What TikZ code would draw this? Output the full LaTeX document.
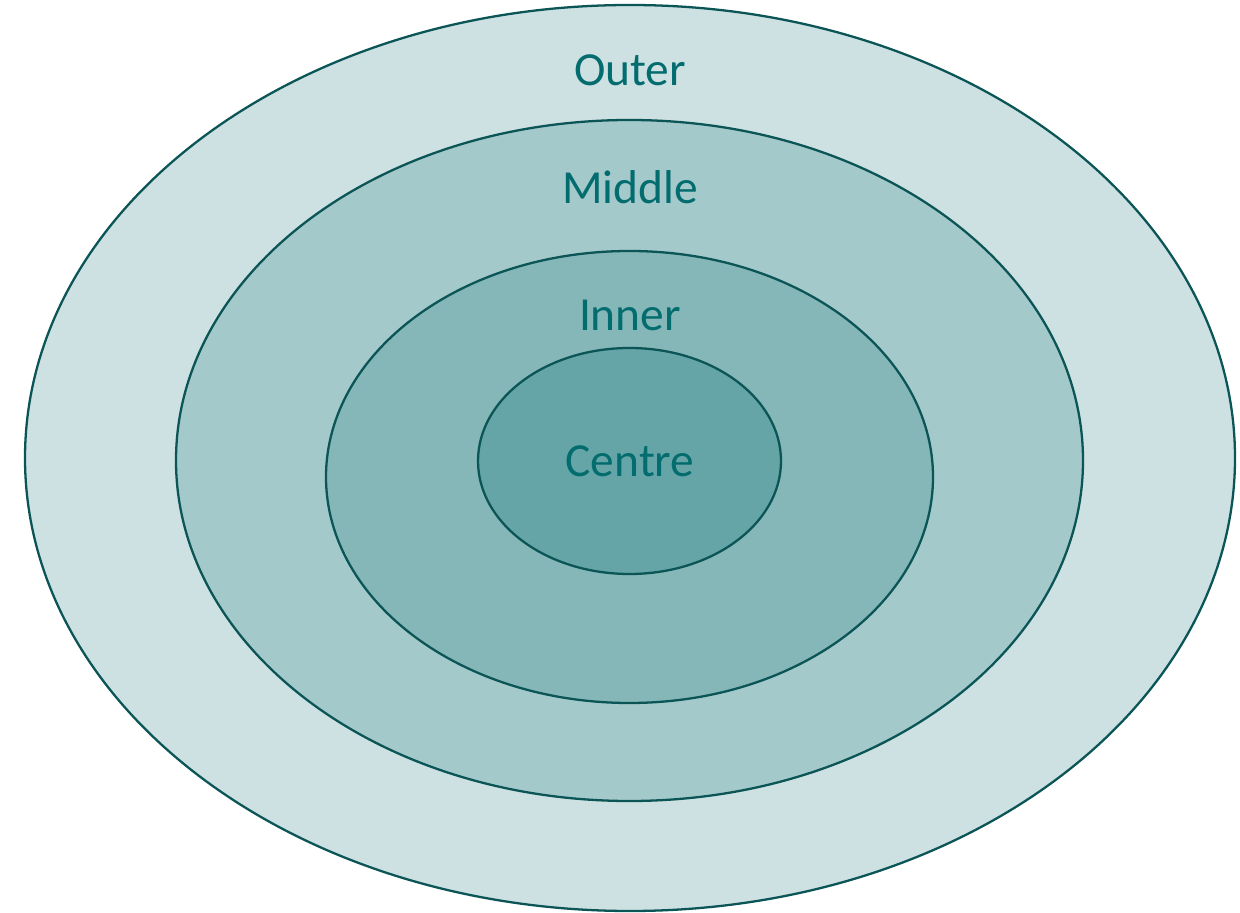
\documentclass[tikz,border=0pt]{standalone}
\usepackage{fontspec}
\setmainfont{Carlito}
\usetikzlibrary{shapes.geometric}
\definecolor{ringline}{HTML}{0B5557}
\definecolor{ringtext}{HTML}{036C6E}
\definecolor{outerfill}{HTML}{CDE1E2}
\definecolor{middlefill}{HTML}{A4C9CA}
\definecolor{innerfill}{HTML}{85B7B8}
\definecolor{centrefill}{HTML}{66A5A7}
\tikzset{
  ring/.style={ellipse,draw=ringline,line width=1.3pt,inner sep=0pt},
  ringlabel/.style={text=ringtext,font=\fontsize{27}{32}\selectfont}
}
\begin{document}
\begin{tikzpicture}
  \useasboundingbox (0,0) rectangle (24.8,18.24);
  % nested rings, outermost first
  \node[ring,fill=outerfill,minimum width=24.2cm,minimum height=18.12cm] (outer) at (12.6,9.08) {};
  \node[ring,fill=middlefill,minimum width=18.14cm,minimum height=13.62cm] (middle) at (12.59,9.03) {};
  \node[ring,fill=innerfill,minimum width=12.14cm,minimum height=9.04cm] (inner) at (12.59,8.7) {};
  \node[ring,fill=centrefill,minimum width=6.06cm,minimum height=4.52cm] (centre) at (12.59,9.02) {};
  \node[ringlabel] (outerlbl) at (12.6,16.84) {Outer};
  \node[ringlabel] (middlelbl) at (12.6,14.5) {Middle};
  \node[ringlabel] (innerlbl) at (12.6,11.94) {Inner};
  \node[ringlabel] (centrelbl) at (12.6,9.02) {Centre};
\end{tikzpicture}
\end{document}
